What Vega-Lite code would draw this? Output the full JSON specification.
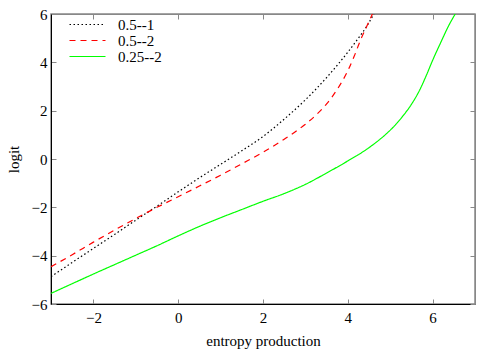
{
  "$schema": "https://vega.github.io/schema/vega-lite/v6.json",
  "width": 424,
  "height": 290,
  "autosize": {"type": "none"},
  "padding": {"left": 51, "top": 14, "right": 25, "bottom": 46},
  "background": "white",
  "config": {
    "view": {"stroke": "#888888", "strokeWidth": 1.5},
    "font": "Liberation Serif",
    "axis": {"grid": false, "labelFont": "Liberation Serif", "titleFont": "Liberation Serif", "labelFontSize": 15, "titleFontSize": 15, "titleFontWeight": "normal", "labelColor": "black", "titleColor": "black", "tickColor": "#888888", "tickSize": -5, "domainColor": "black"}
  },
  "data": {"values": [
    {"x": -3, "y": -4.87, "s": "0.5--1"},
    {"x": -2.5, "y": -4.28, "s": "0.5--1"},
    {"x": -2, "y": -3.70, "s": "0.5--1"},
    {"x": -1.5, "y": -3.12, "s": "0.5--1"},
    {"x": -1, "y": -2.53, "s": "0.5--1"},
    {"x": -0.5, "y": -1.95, "s": "0.5--1"},
    {"x": 0, "y": -1.36, "s": "0.5--1"},
    {"x": 0.5, "y": -0.78, "s": "0.5--1"},
    {"x": 1, "y": -0.22, "s": "0.5--1"},
    {"x": 1.5, "y": 0.34, "s": "0.5--1"},
    {"x": 2, "y": 0.93, "s": "0.5--1"},
    {"x": 2.5, "y": 1.65, "s": "0.5--1"},
    {"x": 3, "y": 2.45, "s": "0.5--1"},
    {"x": 3.5, "y": 3.37, "s": "0.5--1"},
    {"x": 4, "y": 4.42, "s": "0.5--1"},
    {"x": 4.25, "y": 5.0, "s": "0.5--1"},
    {"x": 4.45, "y": 5.5, "s": "0.5--1"},
    {"x": 4.6, "y": 5.96, "s": "0.5--1"},
    {"x": 4.65, "y": 6.12, "s": "0.5--1"},
    {"x": -3, "y": -4.46, "s": "0.5--2"},
    {"x": -2.5, "y": -3.96, "s": "0.5--2"},
    {"x": -2, "y": -3.44, "s": "0.5--2"},
    {"x": -1.5, "y": -2.94, "s": "0.5--2"},
    {"x": -1, "y": -2.46, "s": "0.5--2"},
    {"x": -0.5, "y": -2.0, "s": "0.5--2"},
    {"x": 0, "y": -1.56, "s": "0.5--2"},
    {"x": 0.5, "y": -1.12, "s": "0.5--2"},
    {"x": 1, "y": -0.67, "s": "0.5--2"},
    {"x": 1.5, "y": -0.20, "s": "0.5--2"},
    {"x": 2, "y": 0.28, "s": "0.5--2"},
    {"x": 2.5, "y": 0.82, "s": "0.5--2"},
    {"x": 3, "y": 1.44, "s": "0.5--2"},
    {"x": 3.25, "y": 1.82, "s": "0.5--2"},
    {"x": 3.5, "y": 2.28, "s": "0.5--2"},
    {"x": 3.75, "y": 2.88, "s": "0.5--2"},
    {"x": 4, "y": 3.65, "s": "0.5--2"},
    {"x": 4.15, "y": 4.25, "s": "0.5--2"},
    {"x": 4.3, "y": 4.92, "s": "0.5--2"},
    {"x": 4.45, "y": 5.50, "s": "0.5--2"},
    {"x": 4.58, "y": 6.0, "s": "0.5--2"},
    {"x": 4.62, "y": 6.15, "s": "0.5--2"},
    {"x": -3, "y": -5.56, "s": "0.25--2"},
    {"x": -2.5, "y": -5.16, "s": "0.25--2"},
    {"x": -2, "y": -4.76, "s": "0.25--2"},
    {"x": -1.5, "y": -4.37, "s": "0.25--2"},
    {"x": -1, "y": -3.98, "s": "0.25--2"},
    {"x": -0.5, "y": -3.59, "s": "0.25--2"},
    {"x": 0, "y": -3.18, "s": "0.25--2"},
    {"x": 0.5, "y": -2.79, "s": "0.25--2"},
    {"x": 1, "y": -2.43, "s": "0.25--2"},
    {"x": 1.5, "y": -2.09, "s": "0.25--2"},
    {"x": 2, "y": -1.75, "s": "0.25--2"},
    {"x": 2.5, "y": -1.43, "s": "0.25--2"},
    {"x": 3, "y": -1.05, "s": "0.25--2"},
    {"x": 3.5, "y": -0.58, "s": "0.25--2"},
    {"x": 4, "y": -0.08, "s": "0.25--2"},
    {"x": 4.5, "y": 0.47, "s": "0.25--2"},
    {"x": 4.9, "y": 1.03, "s": "0.25--2"},
    {"x": 5.1, "y": 1.37, "s": "0.25--2"},
    {"x": 5.3, "y": 1.78, "s": "0.25--2"},
    {"x": 5.5, "y": 2.26, "s": "0.25--2"},
    {"x": 5.7, "y": 2.87, "s": "0.25--2"},
    {"x": 5.85, "y": 3.45, "s": "0.25--2"},
    {"x": 6.0, "y": 4.08, "s": "0.25--2"},
    {"x": 6.2, "y": 4.85, "s": "0.25--2"},
    {"x": 6.36, "y": 5.45, "s": "0.25--2"},
    {"x": 6.55, "y": 6.05, "s": "0.25--2"}
  ]},
  "resolve": {"axis": {"x": "independent", "y": "independent"}},
  "layer": [
    {
      "mark": {"type": "line", "clip": true, "strokeWidth": 1.2, "interpolate": "monotone"},
      "encoding": {
        "x": {"field": "x", "type": "quantitative", "scale": {"domain": [-3, 7], "nice": false, "zero": false},
              "axis": {"title": "entropy production", "values": [-2, 0, 2, 4, 6], "labelPadding": 11, "titlePadding": 8}},
        "y": {"field": "y", "type": "quantitative", "scale": {"domain": [-6, 6], "nice": false, "zero": false},
              "axis": {"title": "logit", "values": [-6, -4, -2, 0, 2, 4, 6], "labelPadding": 9, "titlePadding": 10}},
        "color": {"field": "s", "type": "nominal",
                  "scale": {"domain": ["0.5--1", "0.5--2", "0.25--2"], "range": ["#000000", "#ff0000", "#00ff00"]},
                  "legend": {"title": null, "orient": "none", "legendX": 29, "legendY": 3, "symbolType": "M-3,0H3", "symbolSize": 144, "symbolStrokeWidth": 1.2, "labelFont": "Liberation Serif", "labelFontSize": 15, "labelColor": "black", "rowPadding": 0, "labelOffset": 23}},
        "strokeDash": {"field": "s", "type": "nominal",
                       "scale": {"domain": ["0.5--1", "0.5--2", "0.25--2"], "range": [[1.5, 2.5], [6, 5], [1, 0]]},
                       "legend": {"title": null, "orient": "none", "legendX": 29, "legendY": 3, "symbolType": "M-3,0H3", "symbolSize": 144, "symbolStrokeWidth": 1.2, "labelFont": "Liberation Serif", "labelFontSize": 15, "labelColor": "black", "rowPadding": 0, "labelOffset": 23}},
        "order": {"field": "x", "type": "quantitative"}
      }
    },
    {
      "mark": {"type": "line", "opacity": 0},
      "encoding": {
        "x": {"field": "x", "type": "quantitative", "axis": {"orient": "top", "title": null, "labels": false, "values": [-2, 0, 2, 4, 6], "domainColor": "#888888"}},
        "y": {"field": "y", "type": "quantitative", "axis": {"orient": "right", "title": null, "labels": false, "values": [-6, -4, -2, 0, 2, 4, 6], "domainColor": "#888888"}},
        "detail": {"field": "s", "type": "nominal"}
      }
    }
  ]
}
